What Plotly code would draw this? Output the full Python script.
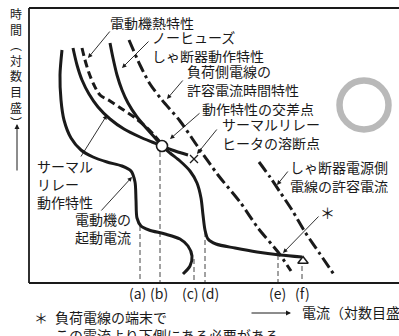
import plotly.graph_objects as go

INK = "#1a1a1a"
FONT = "Noto Sans CJK JP"

# ---- curve data (drawing coordinates) ----
start_x = [62, 60, 61, 64, 71, 81, 93, 107, 122, 131, 135, 136, 137, 141, 149, 165, 180, 188, 192, 190, 183]
start_y = [50, 75, 100, 120, 138, 150, 157, 162, 166, 171, 182, 200, 218, 226, 230, 234, 239, 246, 256, 266, 274]

relay_x = [73, 77, 82, 89, 98, 110, 124, 140, 152, 162, 172, 188]
relay_y = [48, 65, 80, 94, 107, 119, 129, 137, 142, 146, 150, 155]

breaker_x = [110, 113, 117, 122, 128, 137, 148, 156, 162, 170, 180, 190, 197, 201, 203, 205, 208, 216, 235, 257, 280, 302]
breaker_y = [43, 58, 75, 90, 103, 117, 130, 139, 146, 153, 161, 171, 183, 198, 215, 230, 239, 244, 248, 252, 255, 257]

motor_x = [82, 85, 89, 94, 100, 110, 122, 134, 146, 154, 160]
motor_y = [48, 60, 73, 85, 95, 101, 109, 117, 127, 135, 142]

load_wire_x = [129, 140, 150, 162, 180, 198, 218, 240, 258, 278, 291]
load_wire_y = [40, 65, 84, 100, 121, 147, 175, 202, 228, 252, 271]

src_wire_x = [259, 270, 280, 292, 305, 320, 335]
src_wire_y = [162, 177, 192, 210, 232, 254, 276]

# reference points
cross_pt = ([162], [146])
melt_pt = ([194], [159])
end_pt = ([303], [261])

# dashed drop lines (a)..(f)
drop_labels = ["(a)", "(b)", "(c)", "(d)", "(e)", "(f)"]
drop_x = [140, 160, 194, 205, 278, 302]
drop_top = [226, 152, 259, 232, 255, 266]
label_x = [137, 159, 190, 210, 277, 302]

fig = go.Figure()


def curve(xs, ys, dash="solid", width=3):
    fig.add_trace(go.Scatter(
        x=xs, y=ys, mode="lines",
        line=dict(color=INK, width=width, dash=dash, shape="spline", smoothing=0.8),
        hoverinfo="skip", showlegend=False))


# drop lines
for xv, yt in zip(drop_x, drop_top):
    fig.add_trace(go.Scatter(
        x=[xv, xv], y=[yt, 283], mode="lines",
        line=dict(color="#444", width=1, dash="5px,3px"),
        hoverinfo="skip", showlegend=False))

curve(start_x, start_y)
curve(relay_x, relay_y)
curve(breaker_x, breaker_y)
curve(motor_x, motor_y, dash="8px,4px")
curve(load_wire_x, load_wire_y, dash="12px,4px,3px,4px")
curve(src_wire_x, src_wire_y, dash="12px,4px,3px,4px")

fig.add_trace(go.Scatter(x=melt_pt[0], y=melt_pt[1], mode="markers",
                         marker=dict(symbol="x-thin", size=8, line=dict(color=INK, width=1.3)),
                         hoverinfo="skip", showlegend=False))
fig.add_trace(go.Scatter(x=cross_pt[0], y=cross_pt[1], mode="markers",
                         marker=dict(symbol="circle", size=11, color="white", line=dict(color=INK, width=1.6)),
                         hoverinfo="skip", showlegend=False))
fig.add_trace(go.Scatter(x=end_pt[0], y=end_pt[1], mode="markers",
                         marker=dict(symbol="triangle-up", size=9, color="white", line=dict(color=INK, width=1.5)),
                         hoverinfo="skip", showlegend=False))

# frame
shapes = [
    dict(type="line", x0=29, y0=8, x1=399, y1=8, line=dict(color=INK, width=1.8)),
    dict(type="line", x0=29, y0=283, x1=399, y1=283, line=dict(color=INK, width=1.8)),
    dict(type="line", x0=29, y0=8, x1=29, y1=283, line=dict(color=INK, width=1.8)),
    dict(type="circle", x0=364 - 24.5, x1=364 + 24.5, y0=105 - 24.5, y1=105 + 24.5,
         line=dict(color="#b9b9b9", width=6.5)),
]

ann = []


def text(t, x, y, size=14, anchor="left", height=None):
    a = dict(text=t, x=x, y=y, xref="x", yref="y", showarrow=False,
             xanchor=anchor, yanchor="middle", align="left" if anchor == "left" else "center",
             borderpad=0, font=dict(family=FONT, size=size, color=INK))
    if height:
        a["height"] = height
    ann.append(a)


def arrow(x, y, ax, ay, width=0.9):
    ann.append(dict(text="", x=x, y=y, ax=ax, ay=ay, xref="x", yref="y",
                    axref="x", ayref="y", showarrow=True, arrowhead=2,
                    arrowsize=1, arrowwidth=width, arrowcolor=INK))


labels = [
    ("電動機熱特性", 109, 22, 15),
    ("ノーヒューズ<br>しゃ断器動作特性", 151, 46.5, 33),
    ("負荷側電線の<br>許容電流時間特性", 186, 80, 33),
    ("動作特性の交差点", 201, 108, 15),
    ("サーマルリレー<br>ヒータの溶断点", 221, 133.5, 33),
    ("しゃ断器電源側<br>電線の許容電流", 289, 176.5, 33),
    ("サーマル<br>リレー<br>動作特性", 36, 184, None),
    ("電動機の<br>起動電流", 74, 227.5, None),
    ("電流（対数目盛", 301, 312, None),
    ("負荷電線の端末で<br>この電流より下側にある必要がある", 54, 326, None),
]
for t, x, y, h in labels:
    text(t, x, y, height=h)

text("＊", 327, 212, size=15, anchor="center")
text("＊", 41, 317, size=14, anchor="center")

for lab, lx in zip(drop_labels, label_x):
    text(lab, lx, 293, size=14, anchor="center")

# vertical y-axis title
ytitle = ["時", "間", "︵", "対", "数", "目", "盛", "︶"]
text("<br>".join(ytitle), 16, 68, size=12, anchor="center")

# pointer arrows
arrow(88, 58, 111, 30)
arrow(122, 68, 150, 40)
arrow(167, 99, 184, 79)
arrow(170, 139, 201, 112)
arrow(197, 154, 218, 128)
arrow(107, 115, 80, 158)
arrow(132, 177, 100, 212)
arrow(277, 185, 289, 170)
arrow(283, 253, 320, 215)
# axis arrows
arrow(17, 124, 17, 172, width=1)
arrow(291, 313, 250, 313, width=1)

fig.update_layout(
    width=399, height=336,
    margin=dict(l=0, r=0, t=0, b=0),
    paper_bgcolor="white", plot_bgcolor="white",
    xaxis=dict(range=[0, 399], visible=False, fixedrange=True),
    yaxis=dict(range=[336, 0], visible=False, fixedrange=True),
    shapes=shapes, annotations=ann, showlegend=False,
)

fig.write_html("out.html", config={"displayModeBar": False},
               post_script="document.body.style.margin='0';document.body.style.overflow='hidden';")
